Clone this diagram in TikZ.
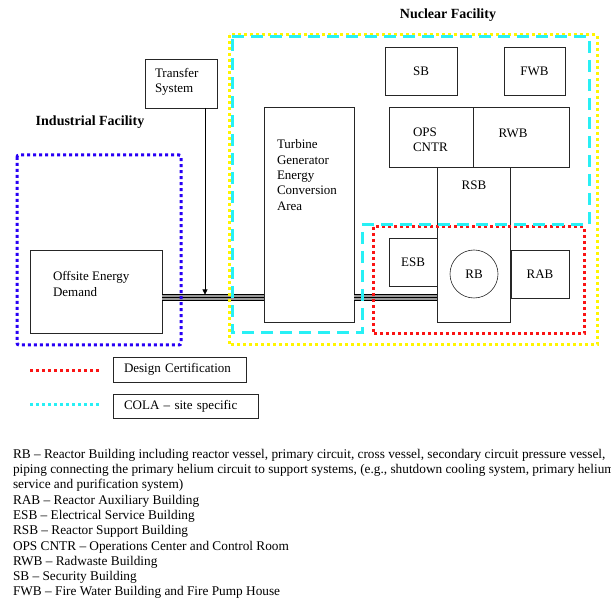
\documentclass[tikz,border=0pt]{standalone}
\usepackage{fontspec}
\setmainfont{Liberation Serif}
\usetikzlibrary{arrows.meta,positioning,calc}

\definecolor{ndblue}{RGB}{40,0,245}
\definecolor{ndred}{RGB}{250,20,20}
\definecolor{ndyellow}{RGB}{255,245,0}
\definecolor{ndcyan}{RGB}{40,240,245}

\begin{document}
\begin{tikzpicture}[
    x=1pt, y=-1pt,
    every node/.style={font=\fontsize{13}{15.3}\selectfont, inner sep=0pt, outer sep=0pt},
    bldg/.style={draw=black!85, line width=0.6pt},
    txt/.style={align=left, anchor=west},
    title/.style={font=\fontsize{14}{16}\selectfont\bfseries},
    zone/.style={line width=3pt},
    dotzone/.style={dash pattern=on 3pt off 3pt},
    dashzone/.style={dash pattern=on 12pt off 7pt},
    >=Latex]
    \useasboundingbox (0,0) rectangle (611,601);

    \node[title] (nuclear)    at (448,15)  {Nuclear Facility};
    \node[title] (industrial) at (90,122)  {Industrial Facility};

    % buildings
    \node[bldg, minimum width=72pt, minimum height=49pt]  (transfer) at (181,83.5) {};
    \node[txt] (transfertxt) at (155,82) {Transfer\\System};
    \node[bldg, minimum width=132pt, minimum height=83pt] (offsite) at (96,291.5) {};
    \node[txt] (offsitetxt) at (53,284) {Offsite Energy\\Demand};
    \node[bldg, minimum width=90pt, minimum height=215pt] (turbine) at (309,214.5) {};
    \node[txt] (turbinetxt) at (277,175) {Turbine\\Generator\\Energy\\Conversion\\Area};
    \node[bldg, minimum width=72pt, minimum height=48pt]  (sb)  at (421,71) {SB};
    \node[bldg, minimum width=61pt, minimum height=48pt]  (fwb) at (534.5,71) {FWB};
    \node[bldg, minimum width=84pt, minimum height=60pt]  (ops) at (431,137) {};
    \node[bldg, minimum width=96pt, minimum height=60pt]  (rwb) [right=0pt of ops] {};
    \node[txt] (opstxt) at (413,140) {OPS\\CNTR};
    \node (rwbtxt) at (513,133) {RWB};
    \node[bldg, minimum width=73pt, minimum height=155pt] (rsb) at (473.5,244.5) {};
    \node (rsbtxt) at (474,185) {RSB};
    \node[bldg, minimum width=48pt, minimum height=48pt]  (esb) at (413,262) {ESB};
    \node[bldg, circle, minimum size=48pt] (rb) at (474,274) {RB};
    \node[bldg, minimum width=58pt, minimum height=48pt]  (rab) at (540,274) {RAB};

    % transmission line
    \foreach \n/\y in {1/294.5,2/297.5,3/300.5}
      \coordinate (bus\n) at (0,\y);
    \draw[line width=6pt, black!40] (offsite.east |- bus2) -- (turbine.west |- bus2);
    \draw[line width=6pt, black!40] (turbine.east |- bus2) -- (rsb.west |- bus2);
    \foreach \n in {1,2,3} {
      \draw[line width=0.9pt] (offsite.east |- bus\n) -- (turbine.west |- bus\n);
      \draw[line width=0.9pt] (turbine.east |- bus\n) -- (rsb.west |- bus\n);
    }
    \coordinate (drop) at (205,0);
    \draw[-{Triangle[width=5pt,length=5pt]}, line width=0.6pt] (drop |- transfer.south) -- (drop |- bus1);

    % site boundaries
    \draw[zone, ndyellow, dotzone] (229,35) rectangle (597,345);
    \draw[zone, ndred, dotzone] (373,227) rectangle (584,334);
    \draw[zone, ndblue, dotzone, rounded corners=2pt] (17,155) rectangle (181,345);
    \draw[zone, ndcyan, dashzone] (232,37) -- (589,37) -- (589,225) -- (362,225) -- (362,333) -- (232,333) -- cycle;

    % legend
    \draw[zone, ndred, dotzone] (30,371) -- (101,371);
    \node[bldg, anchor=west, text width=111pt, inner xsep=11pt, minimum height=25pt, align=left] (dc) at (113,369.5) {Design Certification};
    \draw[zone, ndcyan, dotzone] (30,405) -- (100,405);
    \node[bldg, anchor=west, text width=123pt, inner xsep=11pt, minimum height=24pt, align=left] (cola) at (113,406) {COLA -- site specific};

    \node[anchor=north west, align=left, font=\fontsize{13.3}{15.3}\selectfont] (abbrev) at (13,449) {%
      RB -- Reactor Building including reactor vessel, primary circuit, cross vessel, secondary circuit pressure vessel,\\
      piping connecting the primary helium circuit to support systems, (e.g., shutdown cooling system, primary helium\\
      service and purification system)\\
      RAB -- Reactor Auxiliary Building\\
      ESB -- Electrical Service Building\\
      RSB -- Reactor Support Building\\
      OPS CNTR -- Operations Center and Control Room\\
      RWB -- Radwaste Building\\
      SB -- Security Building\\
      FWB -- Fire Water Building and Fire Pump House};
  \end{tikzpicture}
\end{document}
